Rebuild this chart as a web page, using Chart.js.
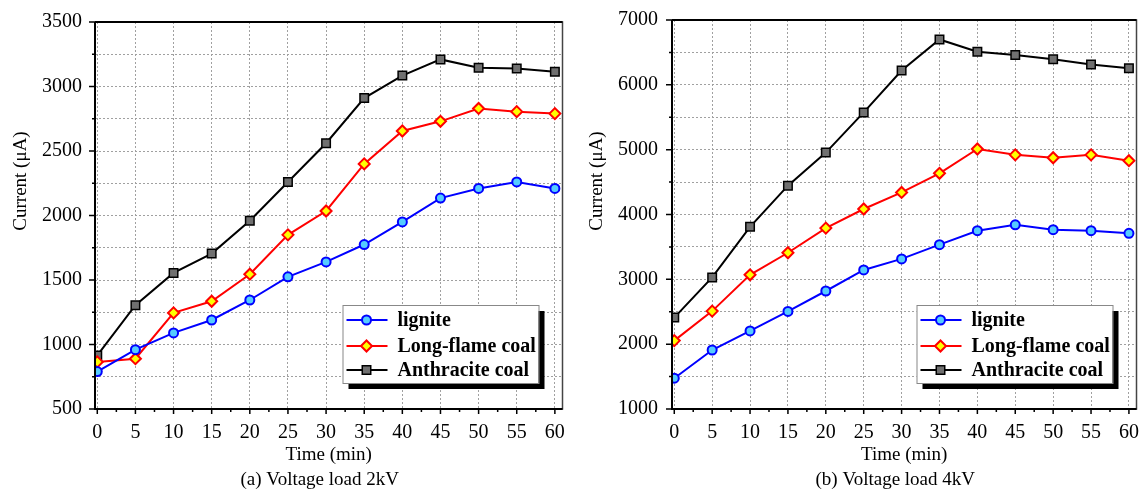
<!DOCTYPE html>
<html>
<head>
<meta charset="utf-8">
<script src="https://cdn.jsdelivr.net/npm/chart.js@4.4.1/dist/chart.umd.min.js"></script>
<style>
  body { margin: 0; background: #fff; width: 1144px; height: 493px; overflow: hidden; position: relative; }
  .panel { position: absolute; top: 0; }
</style>
</head>
<body>
<div class="panel" style="left:0"><canvas id="chartA" width="570" height="493"></canvas></div>
<div class="panel" style="left:570px"><canvas id="chartB" width="574" height="493"></canvas></div>
<script>
// Time axis (min)
const timeMin = [0, 5, 10, 15, 20, 25, 30, 35, 40, 45, 50, 55, 60];
const xTicks = [0, 5, 10, 15, 20, 25, 30, 35, 40, 45, 50, 55, 60];
const seriesNames = ['lignite', 'Long-flame coal', 'Anthracite coal'];

// (a) Voltage load 2kV
const lignite2kV = [790, 960, 1090, 1190, 1345, 1525, 1640, 1775, 1950, 2135, 2210, 2260, 2210];
const longFlame2kV = [865, 890, 1245, 1335, 1545, 1850, 2035, 2400, 2655, 2730, 2830, 2805, 2790];
const anthracite2kV = [915, 1305, 1555, 1705, 1960, 2260, 2560, 2910, 3085, 3210, 3145, 3140, 3115];
const yTicks2kV = [500, 1000, 1500, 2000, 2500, 3000, 3500];

// (b) Voltage load 4kV
const lignite4kV = [1475, 1910, 2205, 2505, 2820, 3145, 3315, 3535, 3750, 3840, 3765, 3750, 3710];
const longFlame4kV = [2055, 2510, 3070, 3410, 3790, 4085, 4340, 4635, 5010, 4920, 4875, 4920, 4830];
const anthracite4kV = [2410, 3030, 3810, 4445, 4955, 5575, 6220, 6700, 6510, 6460, 6395, 6315, 6255];
const yTicks4kV = [1000, 2000, 3000, 4000, 5000, 6000, 7000];

const serif = '"Liberation Serif", "Times New Roman", serif';

const seriesStyle = [
  { line: '#0000ff', fill: '#55ccff', point: 'circle', radius: 4.5, bw: 2 },
  { line: '#ff0000', fill: '#ffff00', point: 'rectRot', radius: 5.5, bw: 2 },
  { line: '#000000', fill: '#707070', point: 'rect', radius: 6, bw: 1.5 }
];

function toPoints(values) {
  return timeMin.map((t, i) => ({ x: t, y: values[i] }));
}

function makeDatasets(lists) {
  return lists.map((vals, i) => ({
    label: seriesNames[i],
    data: toPoints(vals),
    borderColor: seriesStyle[i].line,
    backgroundColor: seriesStyle[i].fill,
    pointBackgroundColor: seriesStyle[i].fill,
    pointBorderColor: seriesStyle[i].line,
    pointStyle: seriesStyle[i].point,
    pointRadius: seriesStyle[i].radius,
    pointHoverRadius: seriesStyle[i].radius,
    pointBorderWidth: seriesStyle[i].bw,
    borderWidth: 2,
    tension: 0
  }));
}

// y ticks with minor ones halfway between the labelled ones
function withMinor(major) {
  const all = [];
  major.forEach((v, i) => {
    all.push(v);
    if (i < major.length - 1) all.push((v + major[i + 1]) / 2);
  });
  return all;
}

// frame, tick marks, y title, boxed legend with shadow and the panel caption
const panelDecor = {
  id: 'panelDecor',
  afterDraw(chart, args, opts) {
    const { ctx, chartArea: a, scales: { x, y } } = chart;
    ctx.save();

    // tick marks
    ctx.strokeStyle = '#000';
    ctx.lineWidth = 1.5;
    ctx.beginPath();
    opts.yMajor.forEach((v, i) => {
      const py = y.getPixelForValue(v);
      ctx.moveTo(a.left, py); ctx.lineTo(a.left - 6, py);
      if (i < opts.yMajor.length - 1) {
        const pm = y.getPixelForValue((v + opts.yMajor[i + 1]) / 2);
        ctx.moveTo(a.left, pm); ctx.lineTo(a.left - 3, pm);
      }
    });
    xTicks.forEach((v, i) => {
      const px = x.getPixelForValue(v);
      ctx.moveTo(px, a.bottom); ctx.lineTo(px, a.bottom + 5);
      if (i < xTicks.length - 1) {
        const pm = x.getPixelForValue((v + xTicks[i + 1]) / 2);
        ctx.moveTo(pm, a.bottom); ctx.lineTo(pm, a.bottom + 3);
      }
    });
    ctx.stroke();

    // frame
    ctx.strokeStyle = '#444';
    ctx.lineWidth = 1.5;
    ctx.strokeRect(a.left, a.top, a.width, a.height);
    ctx.strokeStyle = '#000';
    ctx.lineWidth = 2;
    ctx.beginPath();
    ctx.moveTo(a.left, a.top); ctx.lineTo(a.left, a.bottom); ctx.lineTo(a.right, a.bottom);
    ctx.moveTo(a.left, a.top); ctx.lineTo(a.right, a.top);
    ctx.stroke();

    // y axis title (sits above the middle of the axis in the original)
    ctx.save();
    ctx.translate(opts.titleX, 181);
    ctx.rotate(-Math.PI / 2);
    ctx.font = '19px ' + serif;
    ctx.fillStyle = '#000';
    ctx.textAlign = 'center';
    ctx.textBaseline = 'middle';
    ctx.fillText('Current (μA)', 0, 0);
    ctx.restore();

    // legend
    const bw = 196, bh = 78;
    const bx = a.right - 24 - bw, by = 305;
    ctx.fillStyle = '#000';
    ctx.fillRect(bx + 6, by + 6, bw, bh);
    ctx.fillStyle = '#fff';
    ctx.fillRect(bx, by, bw, bh);
    ctx.strokeStyle = '#888';
    ctx.lineWidth = 1;
    ctx.strokeRect(bx + 0.5, by + 0.5, bw, bh);

    const rowY = [15, 41, 65];
    ctx.font = 'bold 20px ' + serif;
    ctx.textAlign = 'left';
    ctx.textBaseline = 'middle';
    chart.data.datasets.forEach((ds, i) => {
      const ry = by + rowY[i];
      ctx.strokeStyle = ds.borderColor;
      ctx.lineWidth = 2;
      ctx.beginPath();
      ctx.moveTo(bx + 4, ry); ctx.lineTo(bx + 45, ry);
      ctx.stroke();
      ctx.fillStyle = ds.pointBackgroundColor;
      ctx.strokeStyle = ds.pointBorderColor;
      ctx.lineWidth = ds.pointBorderWidth;
      Chart.helpers.drawPoint(ctx, {
        pointStyle: ds.pointStyle, radius: ds.pointRadius, rotation: 0, borderWidth: ds.pointBorderWidth
      }, bx + 24, ry);
      ctx.fillStyle = '#000';
      ctx.fillText(ds.label, bx + 55, ry + 1);
    });

    // caption
    ctx.font = '19px ' + serif;
    ctx.textAlign = 'center';
    ctx.fillStyle = '#000';
    ctx.fillText(opts.caption, (a.left + a.right) / 2 - 9, 480);
    ctx.restore();
  }
};

function buildChart(canvasId, lists, yMajor, caption, pad) {
  const yAll = withMinor(yMajor);
  return new Chart(document.getElementById(canvasId), {
    type: 'line',
    data: { datasets: makeDatasets(lists) },
    plugins: [panelDecor],
    options: {
      responsive: false,
      animation: false,
      events: [],
      layout: { padding: { left: 0, right: pad.right, top: pad.top, bottom: 0 } },
      plugins: {
        legend: { display: false },
        tooltip: { enabled: false },
        panelDecor: { yMajor: yMajor, caption: caption, titleX: pad.titleX }
      },
      scales: {
        x: {
          type: 'linear',
          min: -0.3,
          max: 61,
          afterBuildTicks: s => { s.ticks = xTicks.map(v => ({ value: v })); },
          afterFit: s => { s.height = 84; s.paddingLeft = 0; s.paddingRight = 0; },
          ticks: {
            padding: 12,
            color: '#000',
            font: { family: serif, size: 20 },
            callback: v => String(v)
          },
          grid: { color: '#a0a0a0', lineWidth: 1, drawTicks: false },
          border: { display: false, dash: [2, 2] },
          title: {
            display: true,
            text: 'Time (min)',
            color: '#000',
            font: { family: serif, size: 19 },
            padding: { top: 0, bottom: 27 }
          }
        },
        y: {
          min: yMajor[0],
          max: yMajor[yMajor.length - 1],
          afterBuildTicks: s => { s.ticks = yAll.map(v => ({ value: v })); },
          afterFit: s => { s.width = pad.left; s.paddingTop = 0; s.paddingBottom = 0; },
          ticks: {
            padding: pad.tick,
            color: '#000',
            font: { family: serif, size: 20 },
            callback: v => (yMajor.includes(v) ? String(v) : '')
          },
          grid: { color: '#a0a0a0', lineWidth: 1, drawTicks: false },
          border: { display: false, dash: [2, 2] }
        }
      }
    }
  });
}

buildChart('chartA', [lignite2kV, longFlame2kV, anthracite2kV], yTicks2kV,
  '(a) Voltage load 2kV', { left: 95, right: 7, top: 22, tick: 13, titleX: 21 });
buildChart('chartB', [lignite4kV, longFlame4kV, anthracite4kV], yTicks4kV,
  '(b) Voltage load 4kV', { left: 102, right: 4, top: 20, tick: 14, titleX: 27 });
</script>
</body>
</html>
